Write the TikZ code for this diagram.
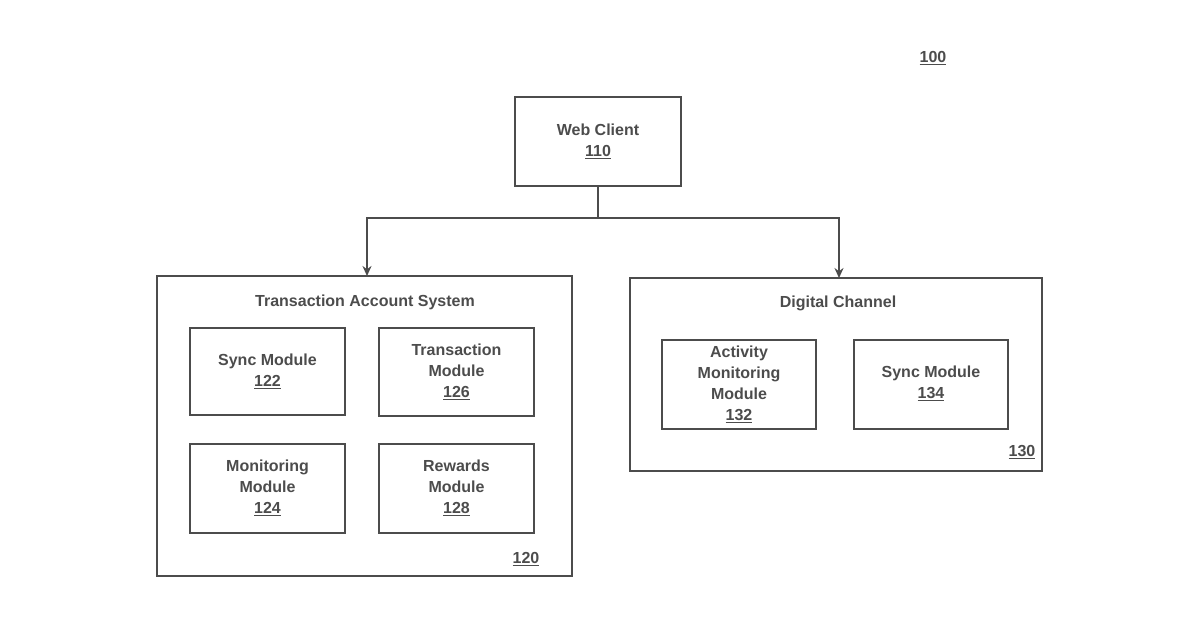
\documentclass[tikz,border=0pt]{standalone}
\usepackage{fontspec}
\setmainfont{Liberation Sans}
\usetikzlibrary{arrows.meta}
\definecolor{inkgray}{gray}{0.3}
\tikzset{
  blk/.style={draw=inkgray, line width=2pt, inner sep=0pt},
  lbl/.style={text=inkgray, font=\fontsize{16}{21}\selectfont\bfseries, align=center, inner sep=0.75pt},
  wire/.style={draw=inkgray, line width=2pt},
}
\begin{document}
\begin{tikzpicture}[x=1pt,y=-1pt]
\useasboundingbox (0,0) rectangle (1200,630);

% Web client
\draw [blk] (515,97) rectangle (681,186);
\node [lbl] (web) at (598,141) {Web Client\\\underline{110}};
\coordinate (webb) at (598,186);
\coordinate (split) at (598,218);

% Transaction account system
\draw [blk] (157,276) rectangle (572,576);
\coordinate (tas) at (367,276);
\node [lbl] (tastitle) at (365,302) {Transaction Account System};
\draw [blk] (190,328) rectangle (345,415);
\node [lbl] (sync1) at (267.5,371) {Sync Module\\\underline{122}};
\draw [blk] (379,328) rectangle (534,416);
\node [lbl] (trans) at (456.5,372) {Transaction\\Module\\\underline{126}};
\draw [blk] (190,444) rectangle (345,533);
\node [lbl] (mon) at (267.5,488) {Monitoring\\Module\\\underline{124}};
\draw [blk] (379,444) rectangle (534,533);
\node [lbl] (rew) at (456.5,488) {Rewards\\Module\\\underline{128}};
\node [lbl] (n120) at (526,559) {\underline{120}};

% Digital channel
\draw [blk] (630,278) rectangle (1042,471);
\coordinate (dc) at (839,278);
\node [lbl] (dctitle) at (838,303) {Digital Channel};
\draw [blk] (662,340) rectangle (816,429);
\node [lbl] (act) at (739,384) {Activity\\Monitoring\\Module\\\underline{132}};
\draw [blk] (854,340) rectangle (1008,429);
\node [lbl] (sync2) at (931,383) {Sync Module\\\underline{134}};
\node [lbl] (n130) at (1022,452) {\underline{130}};

\node [lbl] (n100) at (933,58) {\underline{100}};

% Connectors
\draw [wire] (webb) -- (split);
\draw [wire, -{Stealth[length=10pt,width=9pt]}] (split) -| (tas);
\draw [wire, -{Stealth[length=10pt,width=9pt]}] (split) -| (dc);
\end{tikzpicture}
\end{document}
